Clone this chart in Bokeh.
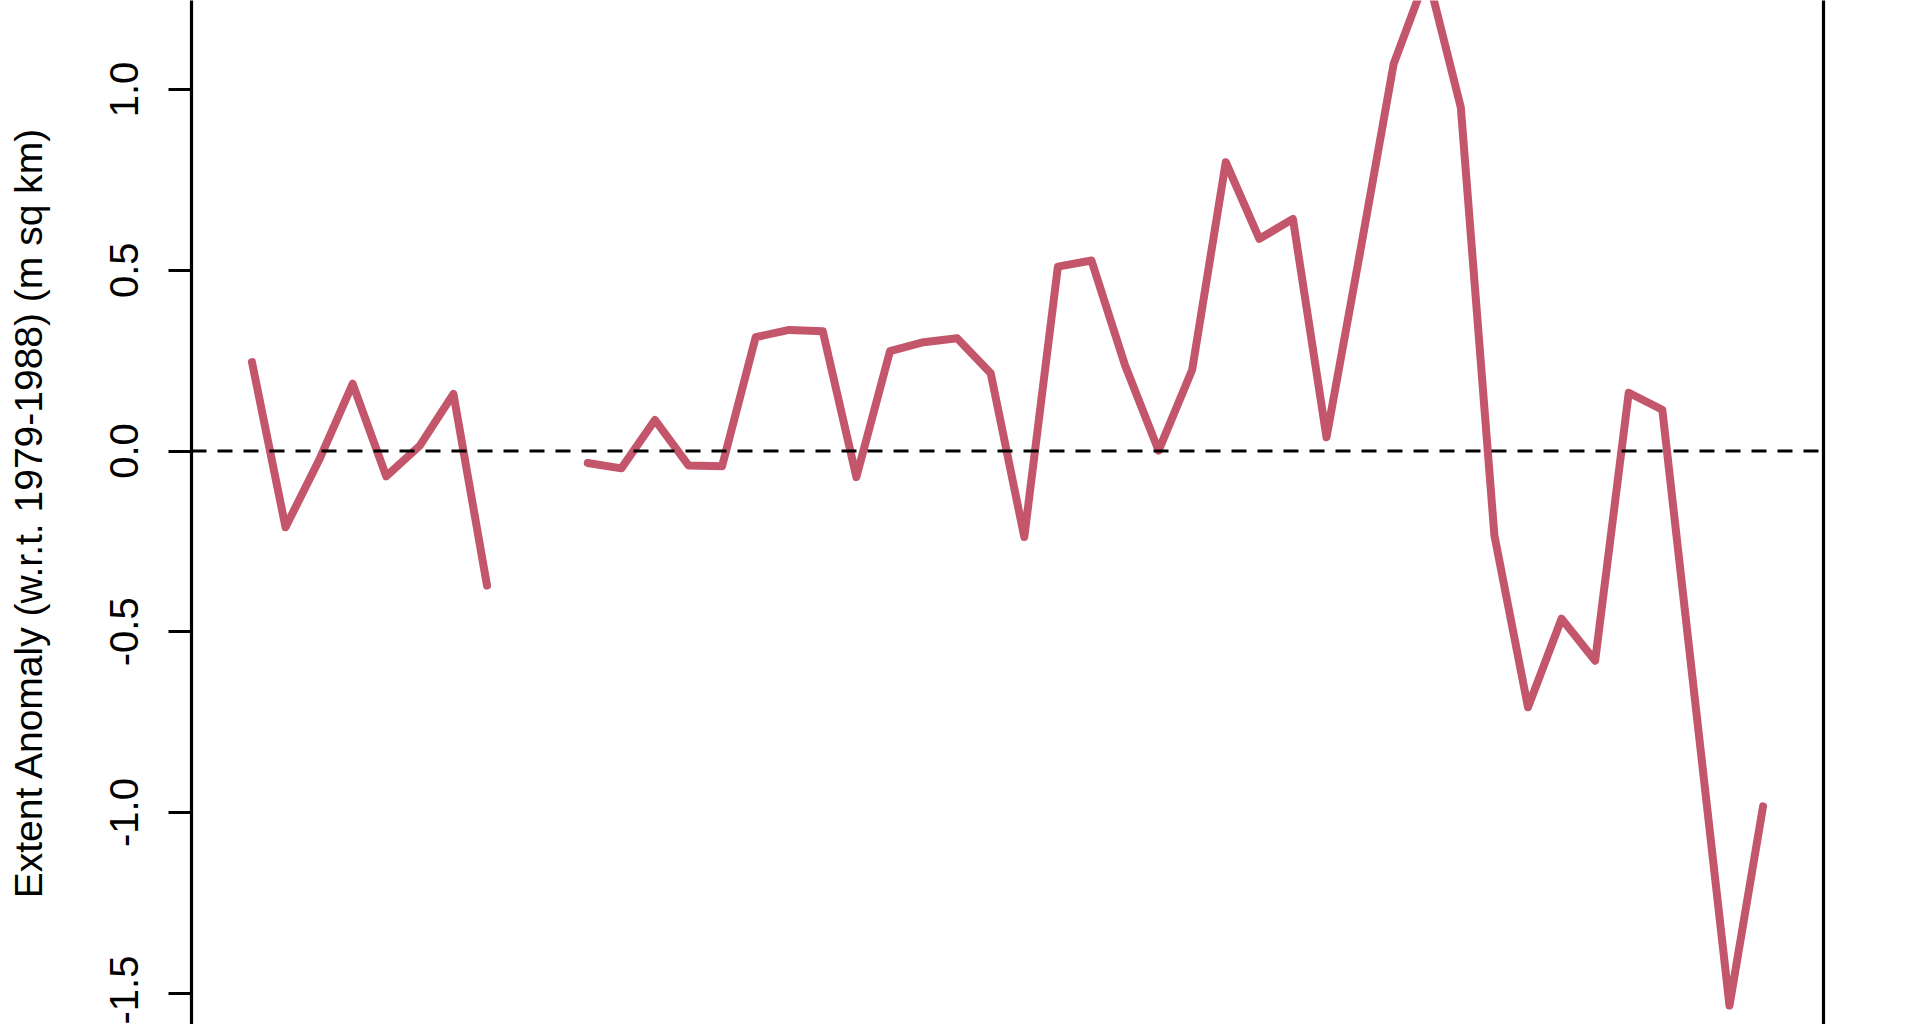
from bokeh.plotting import figure
from bokeh.models import Range1d, LinearAxis, FixedTicker, Span, PrintfTickFormatter
from bokeh.embed import file_html
from bokeh.resources import INLINE

nan = float("nan")

# ---- data ----
years = list(range(1979, 2025))
anomaly = [0.246, -0.211, -0.025, 0.186, -0.070, 0.015, 0.158, -0.372, nan, nan,
           -0.033, -0.048, 0.086, -0.040, -0.042, 0.315, 0.335, 0.331, -0.072, 0.276,
           0.301, 0.312, 0.215, -0.238, 0.510, 0.527, 0.237, 0.001, 0.225, 0.799,
           0.587, 0.642, 0.038, 0.550, 1.071, 1.320, 0.950, -0.234, -0.709, -0.464,
           -0.580, 0.161, 0.114, -0.711, -1.534, -0.983]
y_ticks = [-1.5, -1.0, -0.5, 0.0, 0.5, 1.0]
y_label = "Extent Anomaly (w.r.t. 1979-1988) (m sq km)"

FONT = "Liberation Sans"
LINE_COLOR = "#C4566C"

# R-style 4% padding of the x range
span_x = max(years) - min(years)
x_range = Range1d(min(years) - 0.04 * span_x, max(years) + 0.04 * span_x)
y_range = Range1d(-1.5864, 1.2462)

p = figure(frame_width=1632, frame_height=1024,
           x_range=x_range, y_range=y_range,
           output_backend="svg", toolbar_location=None,
           x_axis_location=None, y_axis_location="left",
           min_border_left=191, min_border_right=97,
           min_border_top=0, min_border_bottom=0,
           outline_line_color=None,
           background_fill_color="white", border_fill_color="white")
p.grid.grid_line_color = None

p.line(years, anomaly, line_color=LINE_COLOR, line_width=8,
       line_cap="round", line_join="round")

p.add_layout(Span(location=0, dimension="width", line_color="black",
                  line_width=3.2, line_dash="15 11"))

ax = p.yaxis[0]
ax.ticker = FixedTicker(ticks=y_ticks)
ax.formatter = PrintfTickFormatter(format="%.1f")
ax.major_label_orientation = "vertical"
ax.major_label_text_font = FONT
ax.major_label_text_font_size = "40px"
ax.major_label_text_color = "black"
ax.major_label_standoff = 30
ax.major_tick_out = 23
ax.major_tick_in = 0
ax.major_tick_line_width = 3.2
ax.major_tick_line_color = "black"
ax.minor_tick_line_color = None
ax.axis_line_width = 3.2
ax.axis_line_color = "black"
ax.axis_label = y_label
ax.axis_label_text_font = FONT
ax.axis_label_text_font_size = "39px"
ax.axis_label_text_font_style = "normal"
ax.axis_label_text_color = "black"
ax.axis_label_standoff = 58

rax = LinearAxis(ticker=FixedTicker(ticks=[]), axis_line_width=3.2,
                 axis_line_color="black", major_tick_line_color=None,
                 minor_tick_line_color=None, major_label_text_font_size="0px")
p.add_layout(rax, "right")

open("out.html", "w").write(file_html(p, INLINE))
